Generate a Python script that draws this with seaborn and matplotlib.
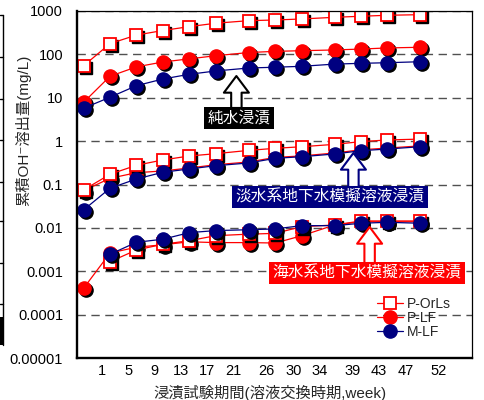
import numpy as np
import pandas as pd
import matplotlib
matplotlib.use("Agg")
import matplotlib.pyplot as plt
import seaborn as sns
from matplotlib.lines import Line2D
from matplotlib.patches import Rectangle
from matplotlib.ticker import NullLocator
from matplotlib.transforms import ScaledTranslation

# ---- data -------------------------------------------------------------
weeks = [1, 5, 9, 13, 17, 21, 26, 30, 34, 39, 43, 47, 52]
week_labels = ["1", "5", "9", "13", "17", "21", "26", "30", "34", "39", "43", "47", "52"]

series_names = ["P-OrLs", "P-LF", "M-LF"]
media = ["純水浸漬", "淡水系地下水模擬溶液浸漬", "海水系地下水模擬溶液浸漬"]

# cumulative OH- release (mg/L)
porls_pure = [54, 175, 275, 350, 430, 515, 590, 611, 645, 705, 745, 785, 810]
porls_fresh = [0.075, 0.172, 0.277, 0.367, 0.453, 0.512, 0.61, 0.68, 0.74, 0.84, 0.97, 1.06, 1.11]
porls_sea = [np.nan, 0.00167, 0.00311, 0.00421, 0.00509, 0.00664, 0.0072, 0.0075, 0.0107, 0.0117, 0.0145, 0.0145, 0.0145]

plf_pure = [7.8, 31, 51, 66, 78, 92, 109, 116, 120, 125, 131, 139, 144]
plf_fresh = [0.072, 0.139, 0.187, 0.205, 0.24, 0.285, 0.33, 0.42, 0.455, 0.53, 0.63, 0.69, 0.775]
plf_sea = [0.00041, 0.00265, 0.0036, 0.0041, 0.0048, 0.0046, 0.0046, 0.0045, 0.0066, 0.0117, 0.0139, 0.0139, 0.0139]

mlf_pure = [5.7, 10.2, 18.8, 26.8, 34.4, 41, 48, 50, 52.5, 59, 61.5, 63.5, 67]
mlf_fresh = [0.026, 0.082, 0.134, 0.191, 0.228, 0.271, 0.313, 0.40, 0.436, 0.504, 0.60, 0.656, 0.741]
mlf_sea = [np.nan, 0.00248, 0.00468, 0.0055, 0.0078, 0.0087, 0.0091, 0.0095, 0.0113, 0.0113, 0.0128, 0.0135, 0.0128]

y_ticks = [1e-5, 1e-4, 1e-3, 1e-2, 1e-1, 1, 10, 100, 1000]
y_tick_labels = ["0.00001", "0.0001", "0.001", "0.01", "0.1", "1", "10", "100", "1000"]

values = {
    "P-OrLs": [porls_pure, porls_fresh, porls_sea],
    "P-LF": [plf_pure, plf_fresh, plf_sea],
    "M-LF": [mlf_pure, mlf_fresh, mlf_sea],
}

rows = []
for s in series_names:
    for medium, vals in zip(media, values[s]):
        for w, v in zip(weeks, vals):
            rows.append({"series": s, "medium": medium, "week": w, "value": v})
df = pd.DataFrame(rows)

# ---- style ------------------------------------------------------------
sns.set_style("white")
plt.rcParams["font.family"] = ["Liberation Sans", "Noto Sans CJK JP", "DejaVu Sans"]
plt.rcParams["axes.unicode_minus"] = False

RED = "#FF0000"
NAVY = "#000080"
styles = {
    "P-OrLs": dict(color=RED, marker="s", markersize=8.5, markerfacecolor="white",
                   markeredgecolor=RED, markeredgewidth=1.3),
    "P-LF": dict(color=RED, marker="o", markersize=9.5, markerfacecolor=RED,
                 markeredgecolor=RED, markeredgewidth=1.0),
    "M-LF": dict(color=NAVY, marker="o", markersize=9.5, markerfacecolor=NAVY,
                 markeredgecolor=NAVY, markeredgewidth=1.0),
}

fig = plt.figure(figsize=(4.85, 4.0), dpi=100)
ax = fig.add_axes([77 / 485, 1 - 358.3 / 400, 395 / 485, 347.6 / 400])
ax.set_yscale("log")
ax.set_ylim(1e-5, 1e3)
ax.set_xlim(0, 59.8)

shadow_tr = ax.transData + ScaledTranslation(2 / 100, -2 / 100, fig.dpi_scale_trans)

# draw order: P-LF underneath, then P-OrLs, then M-LF on top
for s in ["P-LF", "P-OrLs", "M-LF"]:
    st = styles[s]
    sub = df[df["series"] == s]
    for medium in media:
        part = sub[sub["medium"] == medium]
        ax.plot(part["week"], part["value"], linestyle="none", marker=st["marker"],
                markersize=st["markersize"], color="black", transform=shadow_tr)
    sns.lineplot(data=sub, x="week", y="value", units="medium", estimator=None,
                 sort=False, legend=False, ax=ax, linewidth=0.9, **st)

# grid, ticks, spines
ax.set_yticks(y_ticks, labels=y_tick_labels)
ax.yaxis.set_minor_locator(NullLocator())
ax.yaxis.grid(True, color="#505050", linestyle=(0, (6, 4)), linewidth=1.0)
ax.xaxis.grid(False)
ax.set_xticks(weeks, labels=week_labels)
ax.tick_params(axis="y", length=0, pad=10, labelsize=10.5, colors="black")
ax.tick_params(axis="x", length=0, pad=4, labelsize=10.5, colors="black")
shift = ScaledTranslation(18 / 100, 0, fig.dpi_scale_trans)
for lab in ax.get_xticklabels():
    lab.set_transform(lab.get_transform() + shift)

for side, lw in [("left", 1.7), ("bottom", 1.7), ("top", 0.9), ("right", 0.9)]:
    ax.spines[side].set_visible(True)
    ax.spines[side].set_color("black")
    ax.spines[side].set_linewidth(lw)

ax.set_xlabel("浸漬試験期間(溶液交換時期,week)", fontsize=11, va="center")
ax.xaxis.set_label_coords(0.489, -0.1)
ax.set_ylabel("累積OH⁻溶出量(mg/L)", fontsize=11, va="center")
ax.yaxis.set_label_coords(-0.135, 0.657)

# legend
handles = [Line2D([], [], linewidth=0.9, **styles[s]) for s in series_names]
ax.legend(handles, series_names, loc="upper left", bbox_to_anchor=(377 / 485, 1 - 297 / 400),
          bbox_transform=fig.transFigure, frameon=False, fontsize=10, handlelength=1.85,
          handletextpad=0.3, labelspacing=0.0, borderpad=0, borderaxespad=0)

# medium tags with open arrows
def tag(text, box_xy, tip_xy, base_xy, color):
    ax.text(box_xy[0], box_xy[1], text, color="white", fontsize=11.3, ha="center", va="center",
            bbox=dict(boxstyle="square,pad=0.22", fc=color, ec="none"), zorder=6)
    ax.annotate("", xy=tip_xy, xytext=base_xy, zorder=6,
                arrowprops=dict(arrowstyle="simple,head_length=1.2,head_width=1.8,tail_width=0.75",
                                fc="white", ec=color, lw=1.5, shrinkA=0, shrinkB=0,
                                mutation_scale=10))

tag(media[0], (24.5, 3.39), (24.13, 31.4), (24.13, 5.77), "black")
tag(media[1], (38.3, 0.0515), (41.85, 0.531), (41.85, 0.0875), NAVY)
tag(media[2], (43.9, 0.000918), (44.3, 0.0105), (44.3, 0.00156), RED)

# edge of the adjacent panel on the left
fig.add_artist(Line2D([3 / 485, 3 / 485], [1 - 15 / 400, 1 - 345 / 400],
                      transform=fig.transFigure, color="black", linewidth=1.0))
for yp in [15, 57, 99, 140, 182, 221, 263, 304]:
    fig.add_artist(Line2D([0, 3 / 485], [1 - yp / 400, 1 - yp / 400],
                          transform=fig.transFigure, color="black", linewidth=1.0))
fig.add_artist(Rectangle((0, 1 - 345 / 400), 4 / 485, 28 / 400, transform=fig.transFigure,
                         facecolor="black", edgecolor="none"))

fig.savefig("out.png", dpi=100)
